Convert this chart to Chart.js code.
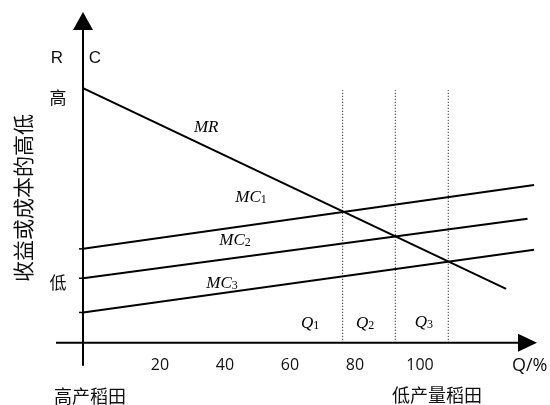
<!DOCTYPE html>
<html>
<head>
<meta charset="utf-8">
<script src="https://cdn.jsdelivr.net/npm/chart.js@4.4.0/dist/chart.umd.min.js"></script>
<style>
  html, body { margin: 0; padding: 0; background: #fff; }
  #wrap { width: 550px; height: 405px; }
</style>
</head>
<body>
<div id="wrap"><canvas id="chart"></canvas></div>
<script>
// Data (x in %, y in relative units 0-100)
const xTicks = [20, 40, 60, 80, 100];
const mrX = [-3.7, 126.5];
const mrY = [78.9, 16.7];
const mc1X = [-3.7, 135.1];
const mc1Y = [29.1, 48.9];
const mc2X = [-3.7, 133.1];
const mc2Y = [20.0, 38.4];
const mc3X = [-3.7, 135.1];
const mc3Y = [9.4, 28.8];
const qLines = [76.2, 92.4, 108.7];
const qLineTop = 78.3;
const curveNames = ['MR', 'MC', 'MC', 'MC'];
const curveSubs = ['', '1', '2', '3'];
const qSubs = ['1', '2', '3'];

const X_MIN = -3.7;
const X_MAX = 135.7;

function pts(xs, ys) {
    return xs.map((x, i) => ({ x: x, y: ys[i] }));
}

const solid = { showLine: true, pointRadius: 0, borderColor: '#000', borderWidth: 2, fill: false };
const dotted = { showLine: true, pointRadius: 0, borderColor: '#000', borderWidth: 1, borderDash: [1, 2], fill: false };

const datasets = [
    { ...solid, data: pts(mrX, mrY) },
    { ...solid, data: pts(mc1X, mc1Y) },
    { ...solid, data: pts(mc2X, mc2Y) },
    { ...solid, data: pts(mc3X, mc3Y) },
    ...qLines.map(q => ({ ...dotted, data: [{ x: q, y: 0 }, { x: q, y: qLineTop }] }))
];

// label anchors in data units
const curveLabelPos = [[34.2, 66.6], [48, 44.9], [43.1, 31.6], [39.1, 18.3]];
const qLabelPos = [[66.2, 5.9], [83.1, 5.9], [101.2, 6.2]];

function drawSubLabel(ctx, main, sub, cx, cy) {
    ctx.font = 'italic 17px "Liberation Serif", "DejaVu Serif", serif';
    const w1 = ctx.measureText(main).width;
    ctx.font = '12px "Liberation Serif", "DejaVu Serif", serif';
    const w2 = sub ? ctx.measureText(sub).width : 0;
    const x0 = cx - (w1 + w2) / 2;
    ctx.textAlign = 'left';
    ctx.textBaseline = 'middle';
    ctx.font = 'italic 17px "Liberation Serif", "DejaVu Serif", serif';
    ctx.fillText(main, x0, cy);
    if (sub) {
        ctx.font = '12px "Liberation Serif", "DejaVu Serif", serif';
        ctx.fillText(sub, x0 + w1, cy + 2);
    }
}

const decorations = {
    id: 'decorations',
    afterDraw(chart) {
        const ctx = chart.ctx;
        const xs = chart.scales.x;
        const ys = chart.scales.y;
        const area = chart.chartArea;
        const ox = area.left;
        const oy = area.bottom;

        ctx.save();
        ctx.strokeStyle = '#000';
        ctx.fillStyle = '#000';
        ctx.lineWidth = 2;

        // y axis + arrow
        ctx.beginPath();
        ctx.moveTo(ox, oy + 23);
        ctx.lineTo(ox, area.top + 8);
        ctx.stroke();
        ctx.beginPath();
        ctx.moveTo(ox, area.top - 8);
        ctx.lineTo(ox - 10, area.top + 10);
        ctx.lineTo(ox + 10, area.top + 10);
        ctx.closePath();
        ctx.fill();

        // x axis + arrow
        ctx.beginPath();
        ctx.moveTo(ox - 27, oy);
        ctx.lineTo(area.right - 16, oy);
        ctx.stroke();
        ctx.beginPath();
        ctx.moveTo(area.right + 1, oy);
        ctx.lineTo(area.right - 18, oy - 9);
        ctx.lineTo(area.right - 18, oy + 9);
        ctx.closePath();
        ctx.fill();

        // small marks where the MC lines start
        ctx.lineWidth = 1.5;
        [mc1Y[0], mc2Y[0], mc3Y[0]].forEach(v => {
            const py = ys.getPixelForValue(v);
            ctx.beginPath();
            ctx.moveTo(ox - 4, py);
            ctx.lineTo(ox, py);
            ctx.stroke();
        });

        // curve labels
        ctx.fillStyle = '#000';
        curveNames.forEach((name, i) => {
            const p = curveLabelPos[i];
            drawSubLabel(ctx, name, curveSubs[i], xs.getPixelForValue(p[0]), ys.getPixelForValue(p[1]));
        });
        qSubs.forEach((s, i) => {
            const p = qLabelPos[i];
            drawSubLabel(ctx, 'Q', s, xs.getPixelForValue(p[0]), ys.getPixelForValue(p[1]));
        });

        // axis texts
        ctx.fillStyle = '#111';
        ctx.textAlign = 'center';
        ctx.textBaseline = 'middle';
        ctx.font = '17px "Liberation Sans Narrow", "Liberation Sans", sans-serif';
        ctx.fillText('R', ox - 26, 58);
        ctx.fillText('C', ox + 12, 58);

        ctx.font = '17px "Noto Sans CJK SC"';
        ctx.fillText('高', ox - 25, 98);
        ctx.fillText('低', ox - 25, 283);

        ctx.font = '18px "Open Sans", sans-serif';
        ctx.textAlign = 'left';
        ctx.fillText('Q/%', 512, 366);

        ctx.textAlign = 'center';
        ctx.font = '18px "Noto Sans CJK SC"';
        ctx.fillText('高产稻田', 90, 396);
        ctx.fillText('低产量稻田', 437, 395);

        ctx.save();
        ctx.translate(23, 198);
        ctx.rotate(-Math.PI / 2);
        ctx.font = '21px "Noto Sans CJK SC"';
        ctx.fillText('收益或成本的高低', 0, 0);
        ctx.restore();

        ctx.restore();
    }
};

new Chart(document.getElementById('chart'), {
    type: 'scatter',
    data: { datasets: datasets },
    options: {
        responsive: true,
        maintainAspectRatio: false,
        animation: false,
        events: [],
        layout: { padding: { left: 83, right: 14, top: 20, bottom: 17 } },
        plugins: { legend: { display: false }, tooltip: { enabled: false } },
        scales: {
            x: {
                type: 'linear',
                min: X_MIN,
                max: X_MAX,
                afterBuildTicks: axis => { axis.ticks = xTicks.map(v => ({ value: v })); },
                grid: { display: false, drawTicks: false },
                border: { display: false },
                ticks: {
                    autoSkip: false,
                    padding: 13,
                    color: '#111',
                    font: { family: 'Open Sans', size: 16 }
                }
            },
            y: {
                display: false,
                min: 0,
                max: 100
            }
        }
    },
    plugins: [decorations]
});
</script>
</body>
</html>
